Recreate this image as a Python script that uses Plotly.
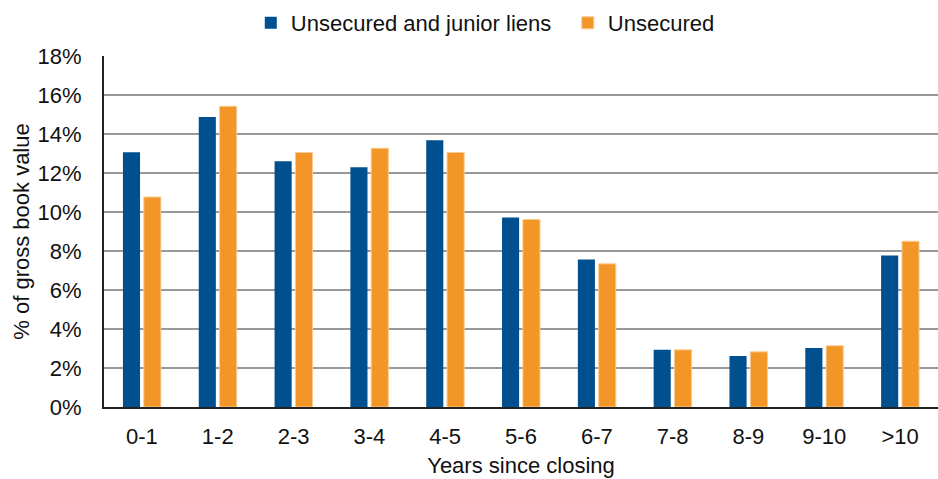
import plotly.graph_objects as go

# Share of gross book value by years since closing
categories = ["0-1", "1-2", "2-3", "3-4", "4-5", "5-6", "6-7", "7-8", "8-9", "9-10", ">10"]
unsecured_junior = [13.07, 14.87, 12.60, 12.29, 13.68, 9.72, 7.56, 2.93, 2.62, 3.03, 7.77]
unsecured = [10.77, 15.42, 13.05, 13.27, 13.05, 9.62, 7.34, 2.93, 2.83, 3.14, 8.50]
y_ticks = [0, 2, 4, 6, 8, 10, 12, 14, 16, 18]
y_tick_labels = [f"{v}%" for v in y_ticks]

BLUE = "#00508F"
ORANGE = "#F39628"
FONT = "Liberation Sans, Arial, sans-serif"
FS = 22

fig = go.Figure()
fig.add_trace(go.Bar(
    x=categories, y=unsecured_junior, name="Unsecured and junior liens",
    marker=dict(color=BLUE, line=dict(color=BLUE, width=0)),
))
fig.add_trace(go.Bar(
    x=categories, y=unsecured, name="Unsecured",
    marker=dict(color=ORANGE, line=dict(color="#F9CB92", width=1)),
))

fig.update_layout(
    width=938, height=479,
    margin=dict(l=104, r=0, t=56, b=72),
    paper_bgcolor="white", plot_bgcolor="white",
    font=dict(family=FONT, size=FS, color="#111111"),
    barmode="group", bargap=0.45, bargroupgap=0.18,
    showlegend=True,
    legend=dict(
        orientation="h", x=0.176, xanchor="left", y=1.094, yanchor="middle",
        font=dict(size=FS), itemwidth=30, traceorder="normal",
        entrywidth=272, entrywidthmode="pixels",
    ),
    xaxis=dict(
        showline=True, linecolor="#222222", linewidth=2,
        ticks="", ticklabelstandoff=9,
        title=dict(text="Years since closing", font=dict(size=FS), standoff=9),
        tickfont=dict(size=FS),
    ),
    yaxis=dict(
        range=[0, 18], tickvals=y_ticks, ticktext=y_tick_labels,
        showline=True, linecolor="#222222", linewidth=2,
        showgrid=True, gridcolor="#999999", gridwidth=2,
        zeroline=False, ticks="", ticklabelstandoff=16,
        title=dict(text="% of gross book value", font=dict(size=FS), standoff=2),
        tickfont=dict(size=FS),
    ),
)

fig.write_html("out.html")
